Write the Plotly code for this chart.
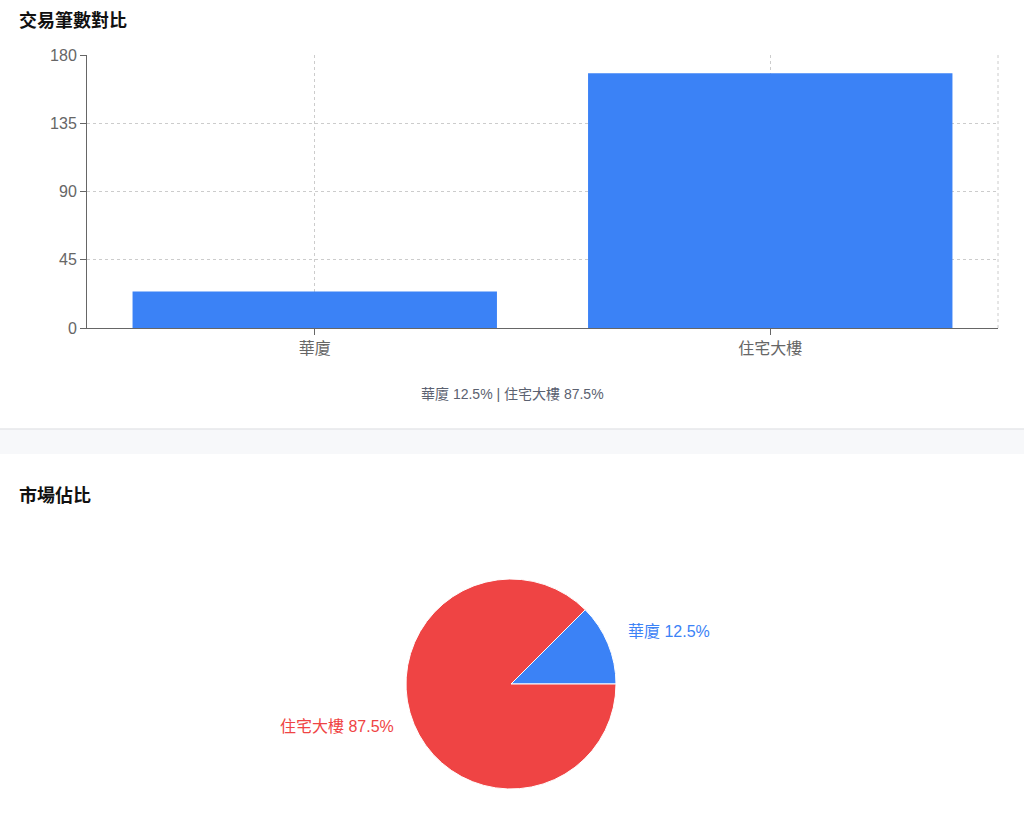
import math
import plotly.graph_objects as go

# 資料
categories = ['華廈', '住宅大樓']
counts = [24, 168]
colors = ['#3b82f6', '#ef4444']
y_ticks = [0, 45, 90, 135, 180]

total = sum(counts)
shares = [c / total * 100 for c in counts]
caption = ' | '.join(f'{c} {s:.1f}%' for c, s in zip(categories, shares))

W, H = 1024, 832
font = 'Liberation Sans, Noto Sans CJK TC, sans-serif'

# 圓餅圖位置 (px)
pie_cx, pie_cy, pie_r = 511, 684, 105
label_r = pie_r + 20

fig = go.Figure()

# 長條圖
fig.add_trace(go.Bar(
    x=categories, y=counts,
    marker=dict(color=colors[0], line=dict(width=0)),
    width=0.8, xaxis='x', yaxis='y', showlegend=False,
))

# 圓餅圖
fig.add_trace(go.Pie(
    labels=categories, values=counts,
    marker=dict(colors=colors, line=dict(color='white', width=1)),
    sort=False, direction='counterclockwise', rotation=45,
    textinfo='none',
    domain=dict(x=[(pie_cx - pie_r) / W, (pie_cx + pie_r) / W],
                y=[1 - (pie_cy + pie_r) / H, 1 - (pie_cy - pie_r) / H]),
    showlegend=False, hoverinfo='label+value+percent',
))

# 圓餅外側標籤（從 3 點鐘方向逆時針）
pie_labels = []
start = 0.0
for c, v, s, col in zip(categories, counts, shares, colors):
    sweep = v / total * 360
    mid = math.radians(start + sweep / 2)
    start += sweep
    lx = pie_cx + label_r * math.cos(mid)
    ly = pie_cy - label_r * math.sin(mid)
    pie_labels.append(dict(
        text=f'{c} {s:.1f}%', xref='paper', yref='paper',
        x=lx / W, y=1 - ly / H, yshift=5,
        xanchor='left' if lx > pie_cx else 'right', yanchor='middle',
        showarrow=False, font=dict(size=16, color=col),
    ))

grid = dict(showgrid=True, gridcolor='#cccccc', griddash='3px,3px', gridwidth=1)

fig.update_layout(
    width=W, height=H,
    margin=dict(l=0, r=0, t=0, b=0, autoexpand=False),
    paper_bgcolor='white', plot_bgcolor='white',
    font=dict(family=font, color='#666666', size=16),
    bargap=0.2,
    xaxis=dict(
        domain=[87 / W, 998 / W], anchor='y', automargin=False,
        showline=True, linecolor='#666666', linewidth=1,
        ticks='outside', ticklen=6, tickcolor='#666666',
        tickfont=dict(size=16, color='#666666'),
        zeroline=False, fixedrange=True, **grid,
    ),
    yaxis=dict(
        domain=[1 - 328 / H, 1 - 55 / H], anchor='x', automargin=False,
        range=[0, 180], tickvals=y_ticks,
        showline=True, linecolor='#666666', linewidth=1,
        ticks='outside', ticklen=6, tickcolor='#666666',
        tickfont=dict(size=16, color='#666666'),
        zeroline=False, fixedrange=True, **grid,
    ),
    shapes=[
        # 右側虛線邊框
        dict(type='line', xref='x domain', yref='y domain', x0=1, x1=1, y0=0, y1=1,
             line=dict(color='#cccccc', width=1, dash='3px,3px'), layer='below'),
        # 區塊分隔帶
        dict(type='rect', xref='paper', yref='paper', x0=0, x1=1,
             y0=1 - 454 / H, y1=1 - 429 / H,
             fillcolor='#f7f8fa', line=dict(width=0), layer='below'),
        dict(type='line', xref='paper', yref='paper', x0=0, x1=1,
             y0=1 - 429 / H, y1=1 - 429 / H,
             line=dict(color='#e6e7ea', width=1.5)),
    ],
    annotations=[
        dict(text='<b>交易筆數對比</b>', xref='paper', yref='paper',
             x=17 / W, y=1 - 20 / H, xanchor='left', yanchor='middle',
             showarrow=False, font=dict(size=18, color='#111111')),
        dict(text=caption, xref='paper', yref='paper',
             x=512 / W, y=1 - 394 / H, xanchor='center', yanchor='middle',
             showarrow=False, font=dict(size=14, color='#5b6170')),
        dict(text='<b>市場佔比</b>', xref='paper', yref='paper',
             x=17 / W, y=1 - 495 / H, xanchor='left', yanchor='middle',
             showarrow=False, font=dict(size=18, color='#111111')),
    ] + pie_labels,
)

fig.write_html('out.html', config={'displayModeBar': False},
               post_script="document.body.style.margin='0';document.body.style.overflow='hidden';")
